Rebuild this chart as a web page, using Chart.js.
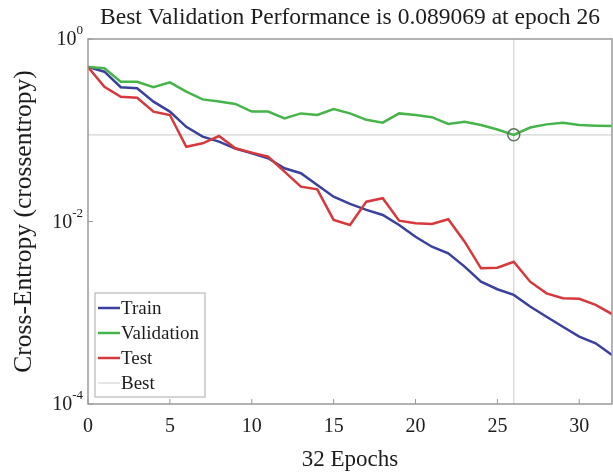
<!DOCTYPE html>
<html>
<head>
<meta charset="utf-8">
<script src="https://cdn.jsdelivr.net/npm/chart.js@4.4.1/dist/chart.umd.min.js"></script>
<style>
html, body { margin: 0; padding: 0; background: #fff; overflow: hidden; }
#wrap { width: 613px; height: 472px; }
</style>
</head>
<body>
<div id="wrap"><canvas id="perfChart"></canvas></div>
<script>
// Cross-entropy per epoch
const epochs = [0, 1, 2, 3, 4, 5, 6, 7, 8, 9, 10, 11, 12, 13, 14, 15, 16,
    17, 18, 19, 20, 21, 22, 23, 24, 25, 26, 27, 28, 29, 30, 31, 32];
const trainLoss = [0.493, 0.438, 0.296, 0.288, 0.206, 0.160, 0.109, 0.085, 0.075, 0.063, 0.056,
    0.0493, 0.0383, 0.0338, 0.0251, 0.0187, 0.0156, 0.0134, 0.0118, 0.00916, 0.00681, 0.00529,
    0.00448, 0.00320, 0.00219, 0.00181, 0.00157, 0.00117, 0.000905, 0.000703, 0.000547, 0.000463, 0.000344];
const validationLoss = [0.493, 0.477, 0.340, 0.340, 0.296, 0.335, 0.265, 0.218, 0.206, 0.194, 0.160,
    0.160, 0.135, 0.153, 0.147, 0.171, 0.153, 0.130, 0.121, 0.153, 0.147, 0.139,
    0.117, 0.124, 0.114, 0.102, 0.089069, 0.107, 0.116, 0.121, 0.114, 0.112, 0.111];
const testLoss = [0.493, 0.300, 0.233, 0.227, 0.160, 0.147, 0.066, 0.072, 0.0865, 0.0634, 0.0568,
    0.0513, 0.0352, 0.0241, 0.0225, 0.0104, 0.00916, 0.0165, 0.0180, 0.0102, 0.00955, 0.00939,
    0.0106, 0.00601, 0.00307, 0.00312, 0.00362, 0.00219, 0.00163, 0.00144, 0.00142, 0.00122, 0.000968];
const bestEpoch = 26;
const bestValue = 0.089069;
const xRange = [0, 32];
const yRange = [1e-4, 1];
const xTicks = [0, 5, 10, 15, 20, 25, 30];
const yTicks = [1e-4, 1e-2, 1];
const yTickExponents = ['-4', '-2', '0'];

const FONT = '"Liberation Serif", "Times New Roman", serif';
const TEXT = '#1c1c1c';

const toPoints = ys => ys.map((v, i) => ({ x: epochs[i], y: v }));

// box, inward ticks, power-of-ten labels, title and legend
const matlabDecor = {
    id: 'matlabDecor',
    afterDraw(chart) {
        const { ctx, chartArea: a, scales: { x, y } } = chart;
        ctx.save();
        ctx.strokeStyle = '#999';
        ctx.lineWidth = 1.5;
        ctx.strokeRect(a.left, a.top, a.right - a.left, a.bottom - a.top);

        ctx.lineWidth = 1;
        ctx.beginPath();
        xTicks.forEach(v => {
            const px = x.getPixelForValue(v);
            ctx.moveTo(px, a.bottom);
            ctx.lineTo(px, a.bottom - 5);
        });
        yTicks.forEach(v => {
            const py = y.getPixelForValue(v);
            ctx.moveTo(a.left, py);
            ctx.lineTo(a.left + 5, py);
        });
        ctx.stroke();

        // y tick labels as 10^n
        ctx.fillStyle = TEXT;
        ctx.textBaseline = 'middle';
        yTicks.forEach((v, i) => {
            const py = y.getPixelForValue(v);
            const right = a.left - 5;
            ctx.font = '13px ' + FONT;
            const ew = ctx.measureText(yTickExponents[i]).width;
            ctx.textAlign = 'left';
            ctx.fillText(yTickExponents[i], right - ew, py - 8);
            ctx.font = '20px ' + FONT;
            ctx.textAlign = 'right';
            ctx.fillText('10', right - ew, py + 1);
        });

        // title, centred over the axes
        ctx.font = '23.5px ' + FONT;
        ctx.textAlign = 'center';
        ctx.fillText('Best Validation Performance is ' + bestValue + ' at epoch ' + bestEpoch,
            (a.left + a.right) / 2, 18);

        // legend box in the lower left corner
        const items = chart.data.datasets.filter(d => d.inLegend);
        const lx = a.left + 7, rowH = 25, boxW = 110;
        const boxH = items.length * rowH + 4;
        const ly = a.bottom - 7 - boxH;
        ctx.fillStyle = '#fff';
        ctx.fillRect(lx, ly, boxW, boxH);
        ctx.strokeStyle = '#aaa';
        ctx.lineWidth = 1;
        ctx.strokeRect(lx, ly, boxW, boxH);
        ctx.font = '19px ' + FONT;
        ctx.textAlign = 'left';
        items.forEach((d, i) => {
            const cy = ly + 15 + i * rowH;
            ctx.strokeStyle = d.borderColor;
            ctx.lineWidth = d.borderWidth;
            ctx.beginPath();
            ctx.moveTo(lx + 3, cy);
            ctx.lineTo(lx + 25, cy);
            ctx.stroke();
            ctx.fillStyle = TEXT;
            ctx.fillText(d.label, lx + 26, cy + 1);
        });
        ctx.restore();
    }
};

new Chart(document.getElementById('perfChart'), {
    type: 'line',
    data: {
        datasets: [
            {
                label: 'Best marker',
                data: [{ x: bestEpoch, y: bestValue }],
                showLine: false,
                pointRadius: 6,
                pointBorderWidth: 1.5,
                pointBorderColor: '#5f735f',
                pointBackgroundColor: 'rgba(0,0,0,0)',
                order: 0
            },
            {
                label: 'Train',
                data: toPoints(trainLoss),
                borderColor: '#3a419c',
                borderWidth: 2.5,
                pointRadius: 0,
                inLegend: true,
                order: 3
            },
            {
                label: 'Validation',
                data: toPoints(validationLoss),
                borderColor: '#45b449',
                borderWidth: 2.5,
                pointRadius: 0,
                inLegend: true,
                order: 2
            },
            {
                label: 'Test',
                data: toPoints(testLoss),
                borderColor: '#d6383c',
                borderWidth: 2.5,
                pointRadius: 0,
                inLegend: true,
                order: 1
            },
            {
                label: 'Best',
                data: [{ x: xRange[0], y: bestValue }, { x: xRange[1], y: bestValue }],
                borderColor: '#d4d4d4',
                borderWidth: 1.2,
                pointRadius: 0,
                inLegend: true,
                order: 4
            },
            {
                label: 'Best epoch',
                data: [{ x: bestEpoch, y: yRange[0] }, { x: bestEpoch, y: yRange[1] }],
                borderColor: '#d4d4d4',
                borderWidth: 1.2,
                pointRadius: 0,
                order: 4
            }
        ]
    },
    options: {
        responsive: true,
        maintainAspectRatio: false,
        animation: false,
        layout: { autoPadding: false, padding: { top: 39, right: 1, left: 0, bottom: 0 } },
        plugins: {
            legend: { display: false },
            title: { display: false },
            tooltip: { enabled: false }
        },
        scales: {
            x: {
                type: 'linear',
                min: xRange[0],
                max: xRange[1],
                afterBuildTicks: s => { s.ticks = xTicks.map(v => ({ value: v })); },
                afterFit: s => {
                    s.height = 68;
                    s.paddingLeft = 0;
                    s.paddingRight = 0;
                },
                grid: { display: false, drawTicks: false },
                border: { display: false },
                ticks: { font: { family: FONT, size: 20 }, color: TEXT, padding: 11, maxRotation: 0 },
                title: {
                    display: true,
                    text: epochs.length - 1 + ' Epochs',
                    font: { family: FONT, size: 23, lineHeight: 1 },
                    color: TEXT,
                    padding: { top: 0, bottom: 1 }
                }
            },
            y: {
                type: 'logarithmic',
                min: yRange[0],
                max: yRange[1],
                afterBuildTicks: s => { s.ticks = yTicks.map(v => ({ value: v })); },
                afterFit: s => {
                    s.width = 88;
                    s.paddingTop = 0;
                    s.paddingBottom = 0;
                },
                grid: { display: false, drawTicks: false },
                border: { display: false },
                ticks: { display: false },
                title: {
                    display: true,
                    text: 'Cross-Entropy (crossentropy)',
                    font: { family: FONT, size: 25.5 },
                    color: TEXT,
                    padding: { top: 9, bottom: 0 }
                }
            }
        }
    },
    plugins: [matlabDecor]
});
</script>
</body>
</html>
